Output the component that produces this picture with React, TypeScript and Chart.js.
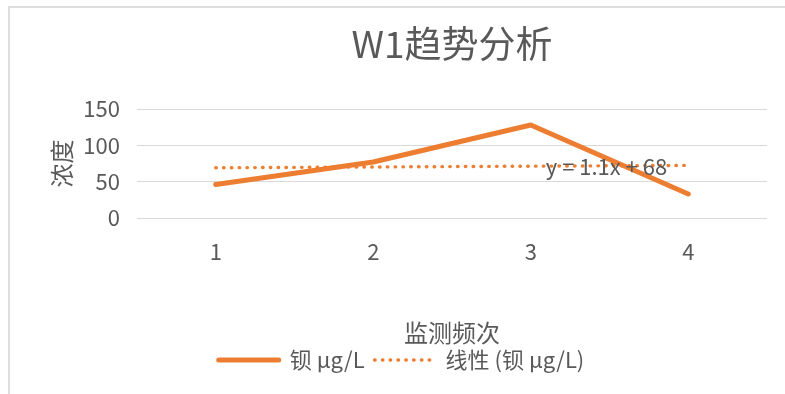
import React, { useEffect, useRef } from "react";
import { Chart, registerables } from "chart.js";

Chart.register(...registerables);

const categories = ["1", "2", "3", "4"];
const bariumValues = [46, 77, 128, 33];
const trendValues = [69.1, 70.2, 71.3, 72.4];
const trendLabelText = "y = 1.1x + 68";
const trendLabelAnchor = { category: 2, value: 71 };
const yMin = 0;
const yMax = 150;
const yStep = 50;

const chartTitle = "W1趋势分析";
const yTitle = "浓度";
const xTitle = "监测频次";
const seriesName = "钡 μg/L";
const trendName = "线性 (钡 μg/L)";

const ORANGE = "#ED7D31";
const TEXT = "#595959";
const GRID = "#D9D9D9";
const FONT = '"Noto Sans CJK SC", "Liberation Sans", sans-serif';

const trendLabelPlugin = {
  id: "trendLabel",
  afterDatasetsDraw(chart: any) {
    const { ctx, scales } = chart;
    const x = scales.x.getPixelForValue(trendLabelAnchor.category) + 15;
    const y = scales.y.getPixelForValue(trendLabelAnchor.value);
    ctx.save();
    ctx.font = `22px ${FONT}`;
    ctx.fillStyle = TEXT;
    ctx.textAlign = "left";
    ctx.textBaseline = "middle";
    ctx.fillText(trendLabelText, x, y);
    ctx.restore();
  },
};

export default function App() {
  const canvasRef = useRef<HTMLCanvasElement | null>(null);

  useEffect(() => {
    if (!canvasRef.current) return;
    const chart = new Chart(canvasRef.current, {
      type: "line",
      data: {
        labels: categories,
        datasets: [
          {
            label: seriesName,
            data: bariumValues,
            borderColor: ORANGE,
            backgroundColor: ORANGE,
            borderWidth: 5,
            borderCapStyle: "round",
            borderJoinStyle: "round",
            pointRadius: 0,
            pointHoverRadius: 0,
            tension: 0,
          },
          {
            label: trendName,
            data: trendValues,
            borderColor: ORANGE,
            backgroundColor: ORANGE,
            borderWidth: 3.4,
            borderDash: [0.5, 7.3],
            borderCapStyle: "round",
            pointRadius: 0,
            pointHoverRadius: 0,
            tension: 0,
          },
        ],
      },
      options: {
        responsive: false,
        animation: false,
        layout: { padding: { left: 36, right: 18, top: 0, bottom: 13 } },
        plugins: {
          title: {
            display: true,
            text: chartTitle,
            color: TEXT,
            fullSize: false,
            font: { family: FONT, size: 37, weight: "normal" },
            padding: { top: 21.5, bottom: 43.1 },
          },
          legend: {
            display: true,
            position: "bottom",
            labels: {
              usePointStyle: true,
              pointStyleWidth: 60,
              color: TEXT,
              padding: 10,
              font: { family: FONT, size: 22 },
              generateLabels(chart: any) {
                return chart.data.datasets.map((ds: any, i: number) => ({
                  text: ds.label,
                  fillStyle: ds.borderColor,
                  strokeStyle: ds.borderColor,
                  lineWidth: ds.borderWidth,
                  lineDash: i === 1 ? [0.5, 7.3] : [],
                  lineCap: "round",
                  pointStyle: "line",
                  hidden: false,
                  datasetIndex: i,
                  fontColor: TEXT,
                }));
              },
            },
          },
          tooltip: { enabled: false },
        },
        scales: {
          x: {
            offset: true,
            grid: { display: false, drawTicks: false },
            border: { display: false },
            ticks: {
              color: TEXT,
              padding: 20,
              font: { family: FONT, size: 22 },
            },
            title: {
              display: true,
              text: xTitle,
              color: TEXT,
              font: { family: FONT, size: 24 },
              padding: { top: 0, bottom: -8.4 },
            },
            afterFit(scale: any) {
              scale.height = 121;
            },
          },
          y: {
            min: yMin,
            max: yMax,
            grid: { color: GRID, lineWidth: 1, drawTicks: false },
            border: { display: false },
            ticks: {
              stepSize: yStep,
              color: TEXT,
              padding: 17,
              font: { family: FONT, size: 22 },
            },
            title: {
              display: true,
              text: yTitle,
              color: TEXT,
              font: { family: FONT, size: 24 },
              padding: { top: 11.6, bottom: 0 },
            },
            afterFit(scale: any) {
              scale.width = 101;
            },
          },
        },
      },
      plugins: [trendLabelPlugin],
    });
    return () => chart.destroy();
  }, []);

  return (
    <div
      style={{
        position: "fixed",
        left: 0,
        top: 0,
        width: 785,
        height: 394,
        background: "#ffffff",
        overflow: "hidden",
      }}
    >
      <div
        style={{
          position: "absolute",
          left: 8,
          top: 6,
          width: 800,
          height: 420,
          border: "2px solid #DEDEDE",
          boxSizing: "border-box",
        }}
      />
      <canvas
        ref={canvasRef}
        width={785}
        height={394}
        style={{ position: "absolute", left: 0, top: 0, width: 785, height: 394 }}
      />
    </div>
  );
}
